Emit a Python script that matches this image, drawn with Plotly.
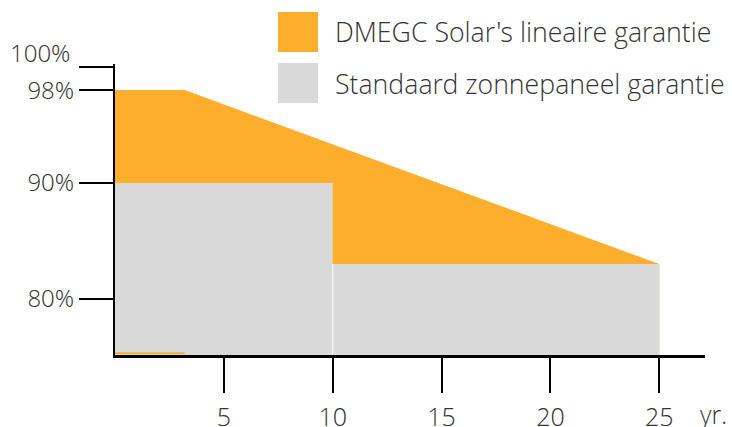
import plotly.graph_objects as go

# Data
years_dmegc = [0, 3.2, 25]
pct_dmegc = [98, 98, 83]
years_std_a = [0, 10]
pct_std_a = [90, 90]
years_std_b = [10, 25]
pct_std_b = [83, 83]

x_ticks = [5, 10, 15, 20, 25]
x_ticktext = ["5", "10", "15", "20", "25"]
y_ticks = [80, 90, 98, 100]
y_ticktext = ["80%", "90%", "98%", ""]
top_label = "100%"

legend_names = ["DMEGC Solar's lineaire garantie", "Standaard zonnepaneel garantie"]

ORANGE = "#FCAE2C"
GRAY = "#D9D9D9"
TXT = "#333333"
FONT = "Open Sans Light, Open Sans"

Y_MIN, Y_MAX = 75.16, 100.25
X_MIN, X_MAX = 0, 27.1

fig = go.Figure()
fig.add_trace(go.Scatter(x=years_dmegc, y=pct_dmegc, mode="lines", line=dict(width=0),
                         fill="tozeroy", fillcolor=ORANGE, hoverinfo="skip", showlegend=False))
fig.add_trace(go.Scatter(x=years_std_a, y=pct_std_a, mode="lines", line=dict(width=0),
                         fill="tozeroy", fillcolor=GRAY, hoverinfo="skip", showlegend=False))
fig.add_trace(go.Scatter(x=years_std_b, y=pct_std_b, mode="lines", line=dict(width=0),
                         fill="tozeroy", fillcolor=GRAY, hoverinfo="skip", showlegend=False))
# thin white seam between the two grey blocks
fig.add_trace(go.Scatter(x=[years_std_b[0], years_std_b[0]], y=[Y_MIN, pct_std_b[0]], mode="lines",
                         line=dict(color="white", width=1), hoverinfo="skip", showlegend=False))
# thin orange strip along the baseline under the flat part of the DMEGC curve
fig.add_trace(go.Scatter(x=years_dmegc[:2], y=[Y_MIN + 0.15, Y_MIN + 0.15], mode="lines",
                         line=dict(color=ORANGE, width=2), hoverinfo="skip", showlegend=False))

fig.update_layout(
    width=732, height=427,
    margin=dict(l=115, r=27, t=64, b=72),
    plot_bgcolor="white", paper_bgcolor="white",
    showlegend=False,
    font=dict(family=FONT, color=TXT),
    xaxis=dict(range=[X_MIN, X_MAX], showgrid=False, zeroline=False, automargin=False,
               showline=True, linecolor="black", linewidth=2.5,
               ticks="outside", ticklen=35, tickwidth=2, tickcolor="black",
               tickvals=x_ticks, ticktext=x_ticktext, ticklabelstandoff=3,
               tickfont=dict(family=FONT, size=25, color=TXT, weight=300)),
    yaxis=dict(range=[Y_MIN, Y_MAX], showgrid=False, zeroline=False, automargin=False,
               showline=True, linecolor="black", linewidth=2,
               ticks="outside", ticklen=34, tickwidth=2, tickcolor="black",
               tickvals=y_ticks, ticktext=y_ticktext,
               tickfont=dict(family=FONT, size=24, color=TXT, weight=300)),
)

# top tick label sits above its tick
fig.add_annotation(xref="paper", yref="y", x=0, y=y_ticks[-1], text=top_label,
                   showarrow=False, xanchor="right", yanchor="middle", xshift=-43, yshift=14,
                   font=dict(family=FONT, size=24, color=TXT, weight=300))

# custom legend
for i, (name, col) in enumerate(zip(legend_names, [ORANGE, GRAY])):
    y0 = 12 + i * 51
    fig.add_shape(type="rect", xref="paper", yref="paper",
                  x0=(278 - 115) / 590, x1=(318 - 115) / 590,
                  y0=1 - (y0 - 64) / 291, y1=1 - (y0 + 40 - 64) / 291,
                  fillcolor=col, line=dict(width=0))
    fig.add_annotation(xref="paper", yref="paper", x=(333 - 115) / 590, y=1 - (y0 + 20 - 64) / 291,
                       text=name, showarrow=False, xanchor="left", yanchor="middle",
                       font=dict(family=FONT, size=26.7, color=TXT, weight=300))

fig.add_annotation(xref="paper", yref="paper", x=(698 - 115) / 590, y=-(414 - 355) / 291,
                   text="yr.", showarrow=False, xanchor="left", yanchor="middle",
                   font=dict(family=FONT, size=25, color=TXT, weight=300))

fig.write_html("out.html", config={"displayModeBar": False},
               post_script="document.body.style.margin='0';document.body.style.padding='0';")
